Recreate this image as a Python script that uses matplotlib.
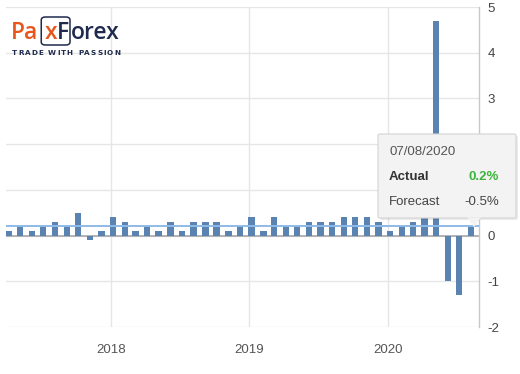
import matplotlib
matplotlib.use("Agg")
import matplotlib.pyplot as plt
import matplotlib.dates as mdates
from matplotlib.patches import FancyBboxPatch, Polygon
import pandas as pd

plt.rcParams['font.family'] = ['Liberation Sans', 'DejaVu Sans']
plt.rcParams['axes.unicode_minus'] = False

# ---- data ----
first_year, first_month = 2017, 4
release_day = 7
values = [0.1, 0.2, 0.1, 0.2, 0.3, 0.2, 0.5, -0.1, 0.1,            # 2017 Apr-Dec
          0.4, 0.3, 0.1, 0.2, 0.1, 0.3, 0.1, 0.3, 0.3, 0.3, 0.1, 0.2,  # 2018
          0.4, 0.1, 0.4, 0.2, 0.2, 0.3, 0.3, 0.3, 0.4, 0.4, 0.4, 0.3,  # 2019
          0.1, 0.2, 0.3, 0.4, 4.7, -1.0, -1.3, 0.2]                 # 2020 Jan-Aug
year_ticks = ["2018-01-01", "2019-01-01", "2020-01-01"]
year_labels = ["2018", "2019", "2020"]
y_ticks = [-2, -1, 0, 1, 2, 3, 4, 5]
hover_value = 0.2
tooltip_date = "07/08/2020"
tooltip_actual = "0.2%"
tooltip_forecast = "-0.5%"

dates = []
for i in range(len(values)):
    m = first_month - 1 + i
    dates.append(pd.Timestamp(first_year + m // 12, m % 12 + 1, release_day))

W, H = 520, 374
fig = plt.figure(figsize=(W / 100, H / 100), dpi=100)
fig.patch.set_facecolor("white")

def fx(x):
    return x / W

def fy(y):
    return 1 - y / H

ax = fig.add_axes([fx(6), fy(327), fx(479) - fx(6), fy(7) - fy(327)])
ax.set_facecolor("white")

ax.bar(mdates.date2num(dates), values, width=17, color="#5b83b1", zorder=3)

ax.set_xlim(mdates.date2num(pd.Timestamp("2017-03-31")), mdates.date2num(pd.Timestamp("2020-08-28")))
ax.set_ylim(-2, 5)

# grid
for yv in y_ticks:
    ax.axhline(yv, color="#e6e6e6", lw=1, zorder=1)
for d in year_ticks:
    ax.axvline(mdates.date2num(pd.Timestamp(d)), color="#e6e6e6", lw=1, zorder=1)
ax.axhline(0, color="#a8a8a8", lw=1.2, zorder=2)
ax.axhline(hover_value, color="#8fbbe8", lw=1.4, zorder=4)

ax.set_xticks([mdates.date2num(pd.Timestamp(d)) for d in year_ticks])
ax.set_xticklabels(year_labels, fontsize=9.5, color="#555555")
ax.yaxis.tick_right()
ax.set_yticks(y_ticks)
ax.set_yticklabels([str(v) for v in y_ticks], fontsize=9.5, color="#444444")
ax.tick_params(axis="both", length=0)
ax.tick_params(axis="x", pad=12)
ax.tick_params(axis="y", pad=6)
for s in ["top", "left", "bottom"]:
    ax.spines[s].set_visible(False)
ax.spines["right"].set_color("#c8c8c8")
ax.spines["right"].set_linewidth(1)

# tooltip
x0, x1, y0, y1 = 378, 516, 134, 218
shadow = FancyBboxPatch((fx(x0 + 2), fy(y1 + 2)), fx(x1) - fx(x0), fy(y0) - fy(y1),
                        boxstyle="round,pad=0,rounding_size=0.004", transform=fig.transFigure,
                        facecolor="#000000", alpha=0.08, edgecolor="none", zorder=9)
fig.add_artist(shadow)
box = FancyBboxPatch((fx(x0), fy(y1)), fx(x1) - fx(x0), fy(y0) - fy(y1),
                     boxstyle="round,pad=0,rounding_size=0.004", transform=fig.transFigure,
                     facecolor="#f3f3f3", edgecolor="#d4d4d4", lw=0.8, zorder=10)
fig.add_artist(box)
arrow = Polygon([[fx(467), fy(y1 - 0.5)], [fx(481), fy(y1 - 0.5)], [fx(474), fy(227)]],
                closed=True, transform=fig.transFigure, facecolor="#f3f3f3",
                edgecolor="none", zorder=11)
fig.add_artist(arrow)
fig.text(fx(389), fy(152), tooltip_date, fontsize=9.5, color="#555555", va="center", ha="left", zorder=12)
fig.text(fx(389), fy(177), "Actual", fontsize=9.5, color="#333333", fontweight="bold", va="center", ha="left", zorder=12)
fig.text(fx(499), fy(177), tooltip_actual, fontsize=9.5, color="#3db43d", fontweight="bold", va="center", ha="right", zorder=12)
fig.text(fx(389), fy(202), "Forecast", fontsize=9.5, color="#444444", va="center", ha="left", zorder=12)
fig.text(fx(499), fy(202), tooltip_forecast, fontsize=9.5, color="#444444", va="center", ha="right", zorder=12)

# logo
fig.canvas.draw()
r = fig.canvas.get_renderer()
orange, navy = "#e8561e", "#1f2a4d"
base_y = 39
cur = 11.0
xbox_l = xbox_r = None
for part, col, gap in [("Pa", orange, 0), ("x", orange, 6), ("F", navy, 0), ("orex", navy, 2)]:
    cur += gap
    if part == "x":
        xbox_l = cur - 3
    t = fig.text(fx(cur), fy(base_y), part, fontsize=16.5, color=col, family="Open Sans",
                 fontweight="semibold", va="baseline", ha="left", zorder=12)
    bb = t.get_window_extent(r)
    cur = bb.x1
    if part == "F":
        xbox_r = cur + 1
xbox = FancyBboxPatch((fx(xbox_l), fy(45)), fx(xbox_r - xbox_l), fy(17) - fy(45),
                      boxstyle="round,pad=0,rounding_size=0.008", transform=fig.transFigure,
                      facecolor="none", edgecolor=navy, lw=1.1, zorder=12)
fig.add_artist(xbox)

slogan = "TRADE WITH PASSION"
sl_x0, sl_x1 = 12, 120
widths = []
tmp = []
for ch in slogan:
    t = fig.text(0, 0, ch if ch != " " else "T", fontsize=5.2, family="DejaVu Sans", fontweight="bold")
    widths.append(t.get_window_extent(r).width * (0.6 if ch == " " else 1.0))
    tmp.append(t)
for t in tmp:
    t.remove()
track = (sl_x1 - sl_x0 - sum(widths)) / (len(slogan) - 1)
cx = sl_x0
for ch, w in zip(slogan, widths):
    if ch != " ":
        fig.text(fx(cx), fy(53), ch, fontsize=5.2, color=navy, family="DejaVu Sans",
                 fontweight="bold", va="center", ha="left", zorder=12)
    cx += w + track

fig.savefig("out.png", dpi=100, facecolor="white")
